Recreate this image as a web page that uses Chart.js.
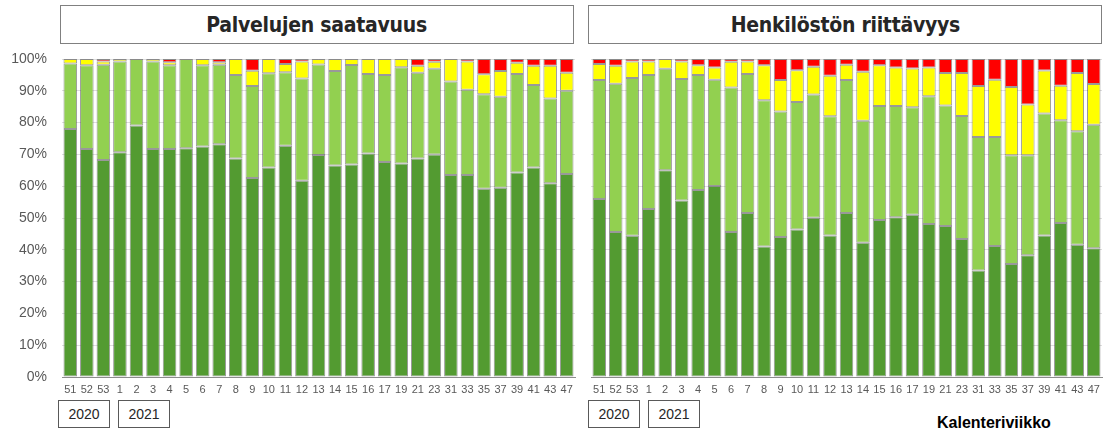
<!DOCTYPE html>
<html>
<head>
<meta charset="utf-8">
<script src="https://cdn.jsdelivr.net/npm/chart.js@4"></script>
<style>
  body { margin: 0; width: 1111px; height: 435px; background: #fff; position: relative; overflow: hidden;
         font-family: "Liberation Sans", Arial, sans-serif; }
  .title { position: absolute; top: 5px; height: 39px; border: 1px solid #808080; box-sizing: border-box;
           display: flex; align-items: center; justify-content: center;
           font-family: "DejaVu Sans", sans-serif;
           font-weight: bold; font-size: 21px; color: #262626; }
  .title span { display: inline-block; transform: scaleX(0.9); letter-spacing: -0.3px; }
  .year { position: absolute; top: 400px; height: 28px; width: 52px; border: 1px solid #595959; box-sizing: border-box;
          display: flex; align-items: center; justify-content: center; font-size: 14px; color: #262626; }
  .box { position: absolute; top: 50px; height: 350px; }
  #axisName { position: absolute; left: 937px; top: 414px; font-weight: bold; font-size: 16px; color: #000; }
</style>
</head>
<body>
<div class="title" style="left:60px;width:514px;"><span>Palvelujen saatavuus</span></div>
<div class="title" style="left:588px;width:514px;"><span>Henkilöstön riittävyys</span></div>

<div class="box" style="left:0;width:580px;"><canvas id="serviceChart"></canvas></div>
<div class="box" style="left:580px;width:531px;"><canvas id="staffChart"></canvas></div>

<div class="year" style="left:58px;">2020</div>
<div class="year" style="left:118px;">2021</div>
<div class="year" style="left:588px;">2020</div>
<div class="year" style="left:648px;">2021</div>
<div id="axisName">Kalenteriviikko</div>

<script>
// =========================
// DATA
// =========================
const weeks = ["51", "52", "53", "1", "2", "3", "4", "5", "6", "7", "8", "9", "10", "11", "12", "13",
               "14", "15", "16", "17", "19", "21", "23", "31", "33", "35", "37", "39", "41", "43", "47"];

const yTicks = [0, 10, 20, 30, 40, 50, 60, 70, 80, 90, 100];

// Palvelujen saatavuus (%)
const serviceDark   = [78.0, 71.7, 68.2, 70.7, 79.1, 71.7, 71.7, 71.9, 72.5, 73.2, 68.7, 62.6, 65.9, 72.7, 61.7, 69.8,
                       66.5, 66.8, 70.3, 67.6, 67.1, 68.7, 70.0, 63.5, 63.5, 59.2, 59.5, 64.3, 65.9, 60.9, 63.8];
const serviceLight  = [20.6, 26.3, 30.0, 28.5, 20.9, 27.5, 26.3, 28.1, 25.5, 25.0, 26.3, 28.9, 29.6, 23.1, 32.2, 28.5,
                       29.7, 31.3, 25.0, 27.4, 30.3, 27.0, 26.9, 29.4, 26.8, 29.7, 28.6, 31.0, 25.9, 26.7, 26.2];
const serviceYellow = [1.4, 2.0, 1.0, 0.8, 0, 0.8, 1.0, 0, 2.0, 0.8, 5.0, 4.8, 4.5, 2.6, 5.3, 1.7,
                       3.8, 1.9, 4.7, 5.0, 2.6, 2.2, 2.2, 7.1, 8.9, 6.3, 8.1, 3.5, 6.1, 10.3, 5.7];
const serviceRed    = [0, 0, 0.8, 0, 0, 0, 1.0, 0, 0, 1.0, 0, 3.7, 0, 1.6, 0.8, 0,
                       0, 0, 0, 0, 0, 2.1, 0.9, 0, 0.8, 4.8, 3.8, 1.2, 2.1, 2.1, 4.3];

// Henkilöstön riittävyys (%)
const staffDark   = [56.0, 45.6, 44.4, 52.8, 65.0, 55.5, 58.8, 60.1, 45.6, 51.6, 41.0, 44.0, 46.4, 50.1, 44.5, 51.6,
                     42.2, 49.4, 50.2, 51.0, 48.1, 47.5, 43.4, 33.5, 41.2, 35.5, 38.3, 44.5, 48.4, 41.6, 40.5];
const staffLight  = [37.4, 46.6, 49.6, 42.2, 31.9, 38.2, 36.2, 33.4, 45.4, 43.7, 46.0, 39.5, 40.1, 38.7, 37.5, 41.8,
                     38.4, 35.8, 35.0, 33.8, 40.2, 37.9, 38.7, 42.0, 34.3, 34.2, 31.4, 38.4, 32.3, 35.7, 38.8];
const staffYellow = [5.0, 5.7, 5.2, 4.2, 3.1, 5.5, 3.0, 3.8, 8.1, 3.9, 11.0, 9.9, 10.0, 8.8, 12.7, 4.8,
                     15.4, 12.8, 12.1, 12.2, 9.0, 10.2, 13.5, 16.0, 18.0, 21.5, 16.0, 13.5, 10.9, 18.3, 12.8];
const staffRed    = [1.6, 2.1, 0.8, 0.8, 0, 0.8, 2.0, 2.7, 0.9, 0.8, 2.0, 6.6, 3.5, 2.4, 5.3, 1.8,
                     4.0, 2.0, 2.7, 3.0, 2.7, 4.4, 4.4, 8.5, 6.5, 8.8, 14.3, 3.6, 8.4, 4.4, 7.9];

// =========================
// STYLE
// =========================
const colors = ["#539B31", "#92D050", "#FFFF00", "#FF0000"];
const names = ["Erittäin hyvä", "Hyvä", "Heikko", "Erittäin heikko"];

function makeDatasets(series) {
    return series.map((vals, i) => ({
        label: names[i],
        data: vals.map(v => (v === 0 ? null : v)),
        backgroundColor: colors[i],
        borderColor: "rgba(70,70,70,0.55)",
        borderWidth: 1,
        borderSkipped: false,
        barPercentage: 0.82,
        categoryPercentage: 1
    }));
}

function makeChart(canvasId, series, showY, pad, yWidth) {
    return new Chart(document.getElementById(canvasId), {
        type: "bar",
        data: { labels: weeks, datasets: makeDatasets(series) },
        options: {
            responsive: true,
            maintainAspectRatio: false,
            animation: false,
            layout: { padding: { top: 9, right: pad, left: 0, bottom: 0 } },
            plugins: { legend: { display: false }, tooltip: { enabled: false } },
            scales: {
                x: {
                    stacked: true,
                    grid: { display: false, drawTicks: false },
                    border: { display: true, color: "#8c8c8c", width: 1 },
                    ticks: {
                        autoSkip: false, maxRotation: 0, minRotation: 0, padding: 6,
                        color: "#595959", font: { family: "Liberation Sans, Arial", size: 11 }
                    },
                    afterFit: s => { s.height = 23; s.paddingLeft = 0; s.paddingRight = 0; }
                },
                y: {
                    stacked: true,
                    min: 0, max: 100,
                    afterBuildTicks: s => { s.ticks = yTicks.map(v => ({ value: v })); },
                    grid: { color: "#dedede", drawTicks: false },
                    border: { display: false },
                    ticks: {
                        display: showY, padding: 15,
                        color: "#595959", font: { family: "Liberation Sans, Arial", size: 14 },
                        callback: v => v + "%"
                    },
                    afterFit: s => { s.width = yWidth; s.paddingTop = 0; s.paddingBottom = 0; }
                }
            }
        }
    });
}

makeChart("serviceChart", [serviceDark, serviceLight, serviceYellow, serviceRed], true, 5, 62);
makeChart("staffChart", [staffDark, staffLight, staffYellow, staffRed], false, 9, 11);
</script>
</body>
</html>
